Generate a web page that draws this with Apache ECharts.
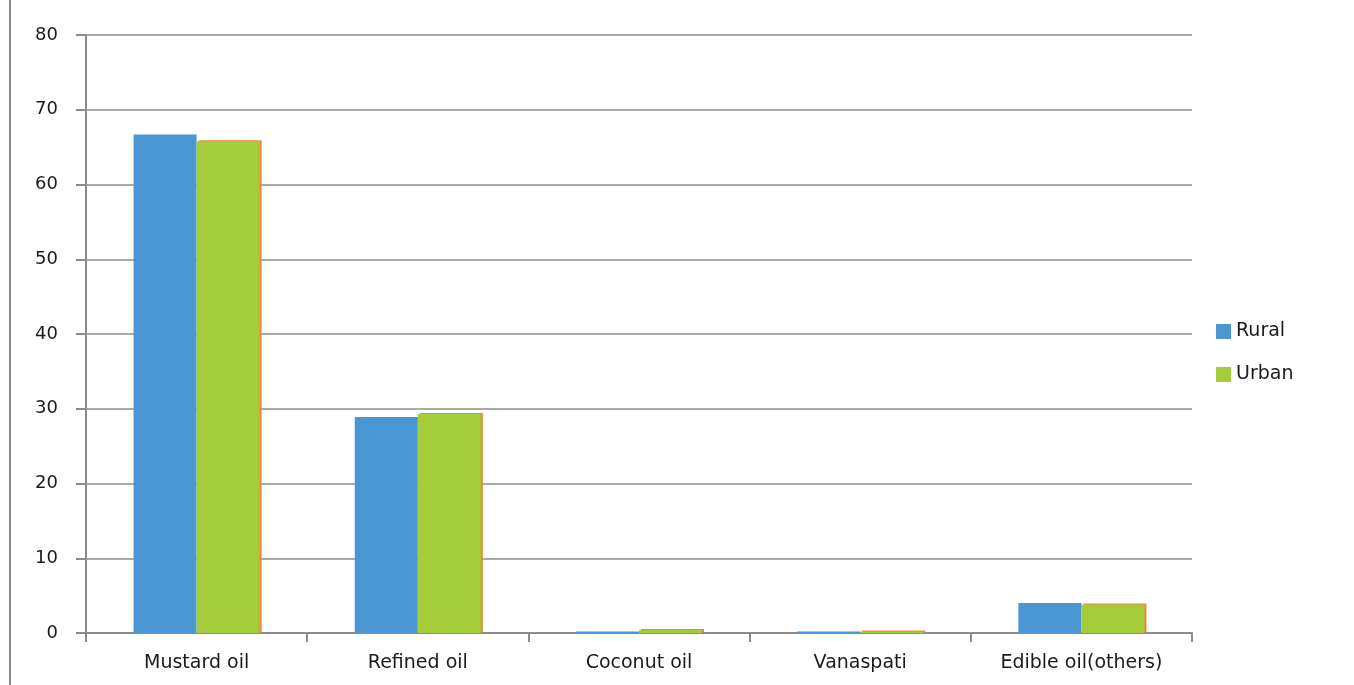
<!DOCTYPE html>
<html>
<head>
<meta charset="utf-8">
<script src="https://cdn.jsdelivr.net/npm/echarts@6/dist/echarts.min.js"></script>
<style>
  html, body { margin: 0; padding: 0; background: #fff; }
  #main { width: 1354px; height: 685px; }
</style>
</head>
<body>
<div id="main"></div>
<script>
var categories = ['Mustard oil', 'Refined oil', 'Coconut oil', 'Vanaspati', 'Edible oil(others)'];
var rural = [66.7, 28.9, 0.2, 0.2, 4.0];
var urban = [65.8, 29.3, 0.4, 0.2, 3.8];
var yTicks = [0, 10, 20, 30, 40, 50, 60, 70, 80];

var myChart = echarts.init(document.getElementById('main'));

var option = {
    animation: false,
    textStyle: { fontFamily: 'DejaVu Sans' },
    grid: { left: 86, right: 162, top: 35, bottom: 52 },
    legend: {
        orient: 'vertical',
        left: 1211,
        top: 317,
        icon: 'rect',
        itemWidth: 15,
        itemHeight: 15,
        itemGap: 24,
        textStyle: { fontSize: 19, color: '#1a1a1a' },
        data: ['Rural', 'Urban']
    },
    xAxis: {
        type: 'category',
        data: categories,
        axisLine: { lineStyle: { color: '#8c8c8c', width: 2 } },
        axisTick: { show: true, length: 9, lineStyle: { color: '#8c8c8c', width: 2 } },
        axisLabel: { fontSize: 19, color: '#1a1a1a', margin: 21 }
    },
    yAxis: {
        type: 'value',
        min: yTicks[0],
        max: yTicks[yTicks.length - 1],
        interval: 10,
        axisLine: { show: true, lineStyle: { color: '#8c8c8c', width: 2 } },
        axisTick: { show: true, length: 10, lineStyle: { color: '#8c8c8c', width: 2 } },
        axisLabel: { fontSize: 18, color: '#1a1a1a', margin: 28 },
        splitLine: { lineStyle: { color: '#8c8c8c', width: 1.5 } }
    },
    series: [
        {
            name: 'Rural',
            type: 'bar',
            data: rural,
            barGap: '0%',
            barCategoryGap: '43%',
            itemStyle: { color: '#4a96d2' }
        },
        {
            name: 'Urban',
            type: 'bar',
            data: urban,
            itemStyle: {
                color: '#a5cc3a',
                shadowColor: '#f0863a',
                shadowOffsetX: 2,
                shadowOffsetY: -1,
                shadowBlur: 0
            }
        }
    ],
    graphic: [{
        type: 'line',
        shape: { x1: 10, y1: 0, x2: 10, y2: 685 },
        style: { stroke: '#8c8c8c', lineWidth: 2 }
    }]
};

myChart.setOption(option);
</script>
</body>
</html>
